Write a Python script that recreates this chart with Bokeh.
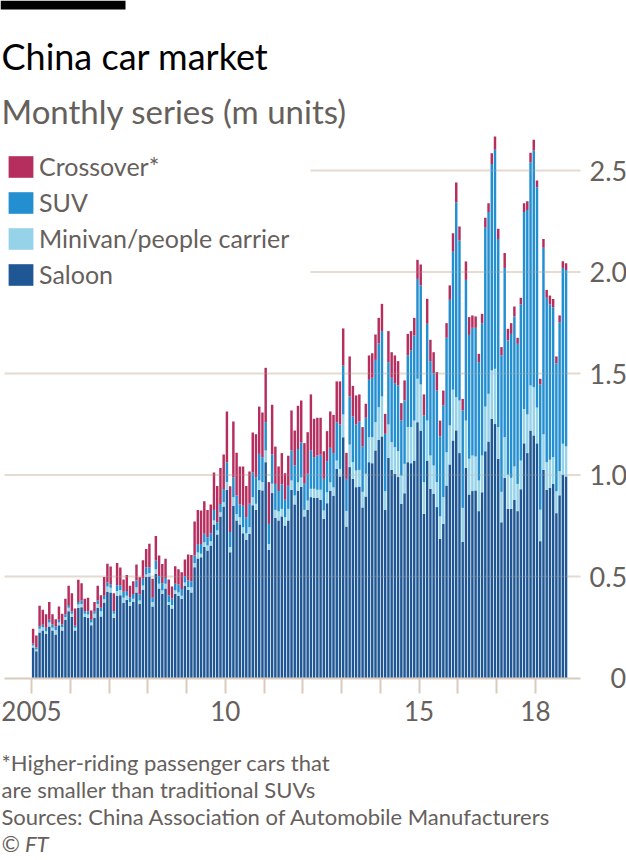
from bokeh.plotting import figure
from bokeh.models import (ColumnDataSource, Range1d, FixedTicker, Legend, LegendItem,
                          Label, BoxAnnotation, LinearAxis)
from bokeh.embed import file_html
from bokeh.resources import INLINE

# ---------------- data (m units, monthly, Jan 2005 - Oct 2018) ----------------
saloon = [
    .150, .132, .224, .234, .217, .254, .234, .214, .260, .234, .287, .329,   # 2005
    .300, .234, .346, .349, .300, .297, .260, .297, .346, .303, .372, .425,   # 2006
    .421, .297, .405, .408, .370, .385, .356, .374, .421, .365, .434, .497,   # 2007
    .500, .352, .513, .441, .415, .441, .359, .342, .415, .405, .390, .454,   # 2008
    .434, .421, .546, .589, .595, .645, .628, .653, .756, .707, .796, .845,   # 2009
    .927, .620, .848, .776, .756, .713, .681, .709, .851, .828, .927, .924,   # 2010
    1.063, .631, .911, .789, .776, .796, .751, .776, .927, .855, .923, .942,  # 2011
    .796, .828, .891, .888, .888, .878, .784, .861, .923, .898, 1.030, .993,  # 2012
    1.186, .746, 1.039, .981, .940, .943, .840, .894, 1.063, 1.058, 1.121, 1.173,  # 2013
    1.190, .828, 1.085, 1.025, 1.006, .990, .858, .910, 1.063, 1.058, 1.071, 1.260,  # 2014
    1.219, .809, 1.071, .932, .907, .842, .686, .759, .948, 1.052, 1.170, 1.220,   # 2015
    1.108, .670, 1.035, .904, .921, .924, .822, .915, 1.117, 1.165, 1.277, 1.251,  # 2016
    1.080, .767, .986, .833, .833, .877, .822, .930, 1.156, 1.108, 1.219, 1.195,   # 2017
    1.156, .674, 1.025, .927, .936, .956, .812, .900, 1.002, .993,                 # 2018
]
minivan = [
    .010, .008, .018, .016, .013, .019, .013, .023, .013, .016, .013, .017,
    .016, .013, .016, .016, .016, .016, .013, .019, .019, .026, .016, .026,
    .023, .019, .023, .026, .025, .020, .018, .016, .026, .017, .022, .013,
    .016, .022, .023, .023, .016, .023, .016, .017, .016, .016, .015, .016,
    .013, .026, .020, .029, .017, .024, .025, .021, .020, .019, .020, .021,
    .038, .025, .043, .032, .036, .030, .032, .034, .040, .030, .046, .041,
    .058, .029, .046, .039, .045, .037, .041, .057, .046, .044, .041, .046,
    .032, .046, .041, .044, .039, .049, .041, .054, .041, .041, .041, .037,
    .112, .077, .111, .082, .082, .082, .077, .112, .123, .128, .139, .161,
    .197, .092, .164, .137, .131, .128, .139, .145, .173, .178, .197, .214,
    .227, .156, .197, .164, .140, .123, .110, .132, .164, .192, .250, .163,
    .259, .168, .233, .176, .175, .167, .151, .181, .220, .235, .238, .272,
    .156, .150, .200, .169, .153, .165, .134, .141, .169, .190, .222, .238,
    .176, .155, .175, .136, .139, .132, .108, .119, .152, .148,
]
suv = [
    .010, .010, .012, .012, .017, .014, .017, .017, .014, .014, .013, .013,
    .013, .010, .013, .017, .013, .016, .014, .013, .017, .017, .017, .020,
    .017, .013, .029, .023, .030, .023, .024, .024, .033, .029, .033, .036,
    .030, .021, .043, .039, .036, .029, .033, .033, .033, .040, .033, .033,
    .033, .030, .037, .039, .048, .041, .040, .039, .052, .041, .041, .065,
    .098, .074, .098, .091, .063, .105, .079, .115, .123, .131, .131, .123,
    .139, .099, .144, .128, .100, .120, .086, .114, .148, .148, .164, .173,
    .129, .132, .190, .156, .169, .173, .156, .153, .170, .169, .189, .219,
    .241, .158, .237, .225, .227, .240, .223, .276, .283, .293, .307, .315,
    .322, .283, .307, .317, .315, .323, .271, .312, .353, .377, .419, .492,
    .488, .328, .477, .465, .455, .451, .394, .451, .564, .619, .680, .961,
    .788, .480, .693, .610, .629, .634, .583, .652, .881, .895, 1.017, 1.079,
    .927, .672, .834, .661, .709, .739, .690, .769, .970, 1.008, 1.100, 1.166,
    1.086, .617, .919, .810, .765, .738, .630, .734, .866, .869,
]
crossover = [
    .072, .059, .102, .074, .067, .088, .050, .036, .065, .052, .077, .095,
    .089, .085, .109, .085, .061, .066, .046, .046, .072, .062, .092, .092,
    .088, .089, .109, .087, .060, .080, .056, .062, .079, .085, .091, .089,
    .115, .094, .120, .100, .094, .094, .077, .059, .087, .075, .083, .081,
    .128, .129, .168, .171, .165, .161, .135, .142, .184, .179, .178, .170,
    .250, .225, .275, .210, .187, .194, .154, .159, .195, .212, .233, .220,
    .268, .206, .245, .184, .121, .155, .131, .148, .197, .172, .213, .206,
    .200, .205, .275, .189, .186, .182, .136, .148, .179, .188, .201, .212,
    .183, .128, .197, .151, .143, .132, .096, .069, .120, .121, .125, .125,
    .134, .098, .153, .126, .137, .120, .086, .099, .106, .096, .087, .094,
    .103, .104, .123, .105, .103, .091, .078, .074, .072, .071, .091, .097,
    .069, .057, .091, .088, .061, .056, .041, .046, .049, .044, .053, .065,
    .050, .041, .073, .057, .053, .049, .030, .033, .044, .043, .046, .052,
    .033, .028, .044, .039, .044, .041, .034, .033, .033, .033,
]

years = list(range(2005, 2019))
year_labels = {2005: "2005", 2010: "10", 2015: "15", 2018: "18"}
y_ticks = [0.5, 1.0, 1.5, 2.0, 2.5]
y_tick_labels = ["0.5", "1.0", "1.5", "2.0", "2.5"]
zero_tick = [0]
full_grid = [0.5, 1.0, 1.5]
short_grid = [2.0, 2.5]

stack_keys = ["saloon", "minivan", "suv", "crossover"]
stack_names = ["Saloon", "Minivan/people carrier", "SUV", "Crossover*"]
stack_colors = ["#1f5794", "#96d2e8", "#248fd0", "#b52e5e"]

title_text = "China car market"
subtitle_text = "Monthly series (m units)"
notes = ["*Higher-riding passenger cars that",
         "are smaller than traditional SUVs",
         "Sources: China Association of Automobile Manufacturers"]
credit = "© FT"

FONT = "Lato"
GREY = "#66605c"
GRID = "#e6dcd1"
AXIS = "#d9ccbf"

# ---------------- layout constants (pixels) ----------------
W, H = 626, 860
PX_PER_MONTH = 3.23
PX_PER_UNIT = 203.0
X0_PX = 31.0      # page x of Jan 2005
Y0_PX = 677.5     # page y of value 0


def xd(px):   # page x -> month units
    return (px - X0_PX) / PX_PER_MONTH


months = list(range(len(saloon)))
source = ColumnDataSource(dict(
    x=[m + 0.5 for m in months],
    saloon=saloon, minivan=minivan, suv=suv, crossover=crossover,
))

p = figure(width=W, height=H,
           x_range=Range1d(xd(0), xd(W)),
           y_range=Range1d(-(H - Y0_PX) / PX_PER_UNIT, Y0_PX / PX_PER_UNIT),
           y_axis_location="right", title=None,
           output_backend="svg", toolbar_location=None,
           min_border_left=0, min_border_top=0, min_border_right=0,
           min_border_bottom=0)
p.outline_line_color = None
p.background_fill_color = "white"
p.border_fill_color = "white"
p.xgrid.visible = False
p.ygrid.visible = False

plot_left, plot_right, short_left = xd(4), xd(580), xd(310)

# gridlines (below bars)
g_y = full_grid + short_grid
g_x0 = [plot_left] * len(full_grid) + [short_left] * len(short_grid)
p.segment(x0=g_x0, x1=[plot_right] * len(g_y), y0=g_y, y1=g_y,
          line_color=GRID, line_width=2)

# bars
renderers = p.vbar_stack(stack_keys, x="x", width=0.76, source=source,
                         fill_color=stack_colors, line_color=None)

# faint gridlines showing through the bars
p.segment(x0=g_x0, x1=[plot_right] * len(g_y), y0=g_y, y1=g_y,
          line_color=GRID, line_width=1.5, line_alpha=0.18)

# x axis at value 0
xa = p.xaxis[0]
xa.fixed_location = 0
xa.bounds = (plot_left, plot_right)
xa.ticker = FixedTicker(ticks=[(y - 2005) * 12 for y in years])
xa.major_label_overrides = {(y - 2005) * 12: year_labels.get(y, "") for y in years}
xa.axis_line_color = AXIS
xa.axis_line_width = 2
xa.major_tick_line_color = AXIS
xa.major_tick_line_width = 2
xa.major_tick_out = 15
xa.major_tick_in = 0
xa.minor_tick_line_color = None
xa.major_label_text_font = FONT
xa.major_label_text_font_size = "26px"
xa.major_label_text_color = GREY
xa.major_label_standoff = 8


# y axis on the right
def style_y(ax):
    ax.axis_line_color = None
    ax.major_tick_line_color = None
    ax.minor_tick_line_color = None
    ax.major_label_text_font = FONT
    ax.major_label_text_font_size = "27px"
    ax.major_label_text_color = GREY
    ax.major_label_standoff = 3


ya = p.yaxis[0]
ya.fixed_location = plot_right
ya.ticker = FixedTicker(ticks=y_ticks)
ya.major_label_overrides = {t: s for t, s in zip(y_ticks, y_tick_labels)}
style_y(ya)

ya0 = LinearAxis(ticker=FixedTicker(ticks=zero_tick), fixed_location=xd(601))
ya0.major_label_overrides = {0: "0"}
style_y(ya0)
p.add_layout(ya0, "right")

# legend (top item = top of stack)
items = [LegendItem(label=n, renderers=[r]) for n, r in zip(stack_names, renderers)][::-1]
legend = Legend(items=items, location=(5, 571), glyph_width=31, glyph_height=27,
                label_height=27, label_standoff=3, spacing=6, padding=0, margin=0,
                background_fill_alpha=0, border_line_color=None,
                label_text_font=FONT, label_text_font_size="25px",
                label_text_color=GREY)
p.add_layout(legend)

# header
p.add_layout(BoxAnnotation(left=0, right=125, top=H, bottom=H - 9,
                           left_units="screen", right_units="screen",
                           top_units="screen", bottom_units="screen",
                           fill_color="black", fill_alpha=1, line_color=None))
p.add_layout(Label(x=1, y=H - 55, x_units="screen", y_units="screen",
                   text=title_text, text_font=FONT, text_font_size="36px",
                   text_color="black", text_baseline="middle"))
p.add_layout(Label(x=1, y=H - 110, x_units="screen", y_units="screen",
                   text=subtitle_text, text_font=FONT,
                   text_font_size="33px", text_color=GREY, text_baseline="middle"))

# footnotes
for i, t in enumerate(notes):
    p.add_layout(Label(x=1, y=H - 762 - 27 * i, x_units="screen", y_units="screen",
                       text=t, text_font=FONT, text_font_size="22px",
                       text_color=GREY, text_baseline="middle"))
p.add_layout(Label(x=1, y=H - 843, x_units="screen", y_units="screen",
                   text=credit, text_font=FONT, text_font_size="22px",
                   text_font_style="italic", text_color=GREY, text_baseline="middle"))

open("out.html", "w").write(file_html(p, INLINE))
